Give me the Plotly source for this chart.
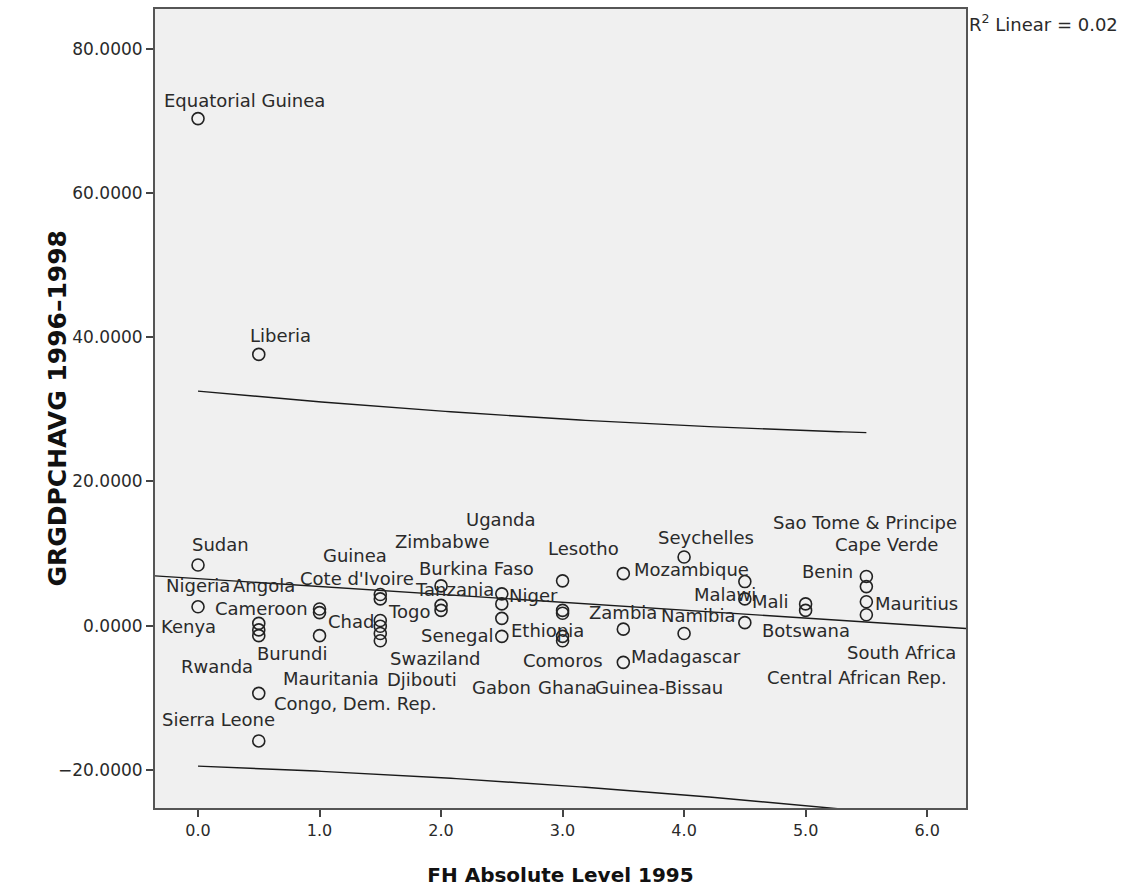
import numpy as np
import plotly.graph_objects as go

# ---------------- data ----------------
countries = [
    "Equatorial Guinea", "Sudan", "Nigeria",
    "Liberia", "Kenya", "Rwanda", "Burundi", "Congo, Dem. Rep.", "Sierra Leone",
    "Angola", "Cameroon", "Chad",
    "Guinea", "Cote d'Ivoire", "Togo", "Swaziland", "Djibouti", "Mauritania",
    "Zimbabwe", "Tanzania", "Senegal",
    "Uganda", "Burkina Faso", "Niger", "Gabon",
    "Lesotho", "Ethiopia", "Zambia", "Comoros", "Ghana",
    "Mozambique", "Guinea-Bissau", "Madagascar",
    "Seychelles", "Central African Rep.",
    "Malawi", "Mali", "Namibia",
    "Benin", "Botswana",
    "Sao Tome & Principe", "Cape Verde", "Mauritius", "South Africa",
]
fh_level_1995 = [
    0.0, 0.0, 0.0,
    0.5, 0.5, 0.5, 0.5, 0.5, 0.5,
    1.0, 1.0, 1.0,
    1.5, 1.5, 1.5, 1.5, 1.5, 1.5,
    2.0, 2.0, 2.0,
    2.5, 2.5, 2.5, 2.5,
    3.0, 3.0, 3.0, 3.0, 3.0,
    3.5, 3.5, 3.5,
    4.0, 4.0,
    4.5, 4.5, 4.5,
    5.0, 5.0,
    5.5, 5.5, 5.5, 5.5,
]
grgdpchavg_1996_1998 = [
    70.3, 8.4, 2.6,
    37.6, 0.3, -0.6, -1.4, -9.4, -16.0,
    2.3, 1.8, -1.4,
    4.3, 3.7, 0.7, -0.1, -1.1, -2.1,
    5.5, 2.8, 2.1,
    4.4, 3.0, 1.0, -1.5,
    6.2, 2.1, 1.7, -1.5, -2.1,
    7.2, -0.5, -5.1,
    9.5, -1.1,
    6.1, 3.7, 0.4,
    3.0, 2.1,
    6.8, 5.4, 3.3, 1.5,
]

x_tick_vals = [0, 1, 2, 3, 4, 5, 6]
y_tick_vals = [-20, 0, 20, 40, 60, 80]
x_title = "FH Absolute Level 1995"
y_title = "GRGDPCHAVG 1996\u20131998"

# ---------------- label placement (pixel offsets of each case label) ----------------
label_dx = [46, 22, 0,
            22, -70, -42, 33, 97, -40,
            -56, -58, 31,
            -25, -23, 29, 55, 42, -49,
            1, 13, 16,
            -1, -25, 32, 0,
            21, -15, 60, 0, 5,
            68, 36, 63,
            22, 173,
            -20, 26, -46,
            22, 0,
            -1, 20, 50, 35]
label_dy = [-18, -20, -21,
            -19, 3, 37, 18, 10, -21,
            -23, -4, -14,
            -39, -20, -9, 32, 46, 38,
            -44, -16, 25,
            -74, -35, -23, 51,
            -32, 20, -1, 24, 47,
            -4, 58, -6,
            -20, 44,
            13, 3, -7,
            -32, 20,
            -54, -42, 2, 38]

# ---------------- regression with individual prediction interval ----------------
x = np.array(fh_level_1995, dtype=float)
y = np.array(grgdpchavg_1996_1998, dtype=float)
n = len(x)
slope, intercept = np.polyfit(x, y, 1)
yhat = intercept + slope * x
sse = float(np.sum((y - yhat) ** 2))
sst = float(np.sum((y - y.mean()) ** 2))
r2 = 1 - sse / sst
s = np.sqrt(sse / (n - 2))
sxx = float(np.sum((x - x.mean()) ** 2))
t_crit = 2.018  # t(0.975, df=42)

x_range = [-0.354, 6.32]
y_range = [-25.3, 85.5]

fit_x = np.array(x_range)
fit_y = intercept + slope * fit_x
ci_x = np.linspace(x.min(), x.max(), 120)
ci_c = intercept + slope * ci_x
half = t_crit * s * np.sqrt(1 + 1 / n + (ci_x - x.mean()) ** 2 / sxx)

LINE = "#1a1a1a"
TEXT = "#2a2a2a"
fig = go.Figure()
fig.add_trace(go.Scatter(x=fit_x, y=fit_y, mode="lines",
                         line=dict(color=LINE, width=1.4), hoverinfo="skip", showlegend=False))
fig.add_trace(go.Scatter(x=ci_x, y=ci_c + half, mode="lines",
                         line=dict(color=LINE, width=1.4), hoverinfo="skip", showlegend=False))
fig.add_trace(go.Scatter(x=ci_x, y=ci_c - half, mode="lines",
                         line=dict(color=LINE, width=1.4), hoverinfo="skip", showlegend=False))
fig.add_trace(go.Scatter(
    x=x, y=y, mode="markers", text=countries,
    marker=dict(symbol="circle-open", size=12, color="#222222", line=dict(width=1.6)),
    hovertemplate="%{text}<br>%{x:.1f}, %{y:.4f}<extra></extra>", showlegend=False))

annotations = []
for name, xv, yv, dx, dy in zip(countries, fh_level_1995, grgdpchavg_1996_1998, label_dx, label_dy):
    annotations.append(dict(
        x=xv, y=yv, xref="x", yref="y", text=name, showarrow=False,
        xanchor="center", yanchor="middle", xshift=dx, yshift=-dy,
        font=dict(family="DejaVu Sans", size=18, color=TEXT)))
annotations.append(dict(
    x=1, y=1, xref="paper", yref="paper", xanchor="left", yanchor="top",
    xshift=1, yshift=0, showarrow=False,
    text=f"R<sup>2</sup> Linear = {r2:.2f}",
    font=dict(family="DejaVu Sans", size=18, color=TEXT)))
# y-axis title
annotations.append(dict(
    x=0, y=0.5, xref="paper", yref="paper", xanchor="center", yanchor="middle",
    xshift=-98, showarrow=False, textangle=-90, text=y_title,
    font=dict(family="DejaVu Sans", size=25, color="#111", weight="bold")))

fig.update_layout(
    width=1138, height=892,
    margin=dict(l=155, r=172, t=7, b=84),
    paper_bgcolor="white", plot_bgcolor="#f0f0f0",
    font=dict(family="DejaVu Sans", color=TEXT),
    annotations=annotations,
    xaxis=dict(
        range=x_range, tickvals=x_tick_vals, tickformat=".1f",
        ticks="outside", ticklen=7, tickwidth=2, tickcolor="#444",
        showline=True, linecolor="#555", linewidth=2, mirror=True,
        showgrid=False, zeroline=False,
        tickfont=dict(family="DejaVu Sans", size=16, color=TEXT),
        title=dict(text=x_title, standoff=29,
                   font=dict(family="DejaVu Sans", size=20, color="#111", weight="bold")),
    ),
    yaxis=dict(
        range=y_range, tickvals=y_tick_vals, tickformat=".4f",
        ticks="outside", ticklen=7, tickwidth=2, tickcolor="#444",
        showline=True, linecolor="#555", linewidth=2, mirror=True,
        showgrid=False, zeroline=False,
        tickfont=dict(family="DejaVu Sans", size=17, color=TEXT),
    ),
)

fig.write_html("out.html")
